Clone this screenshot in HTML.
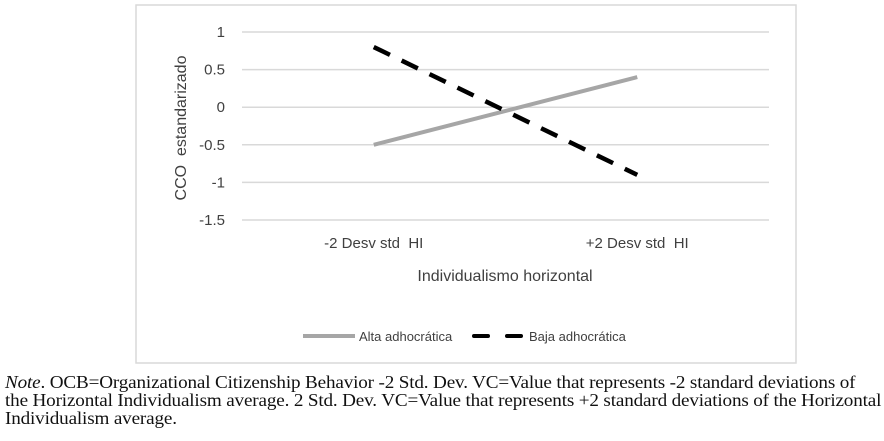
<!DOCTYPE html>
<html><head><meta charset="utf-8"><style>
body{margin:0;width:884px;height:441px;background:#fff;overflow:hidden;position:relative}
#note{position:absolute;left:5px;top:373px;font-family:"Liberation Serif",serif;font-size:18px;line-height:18px;color:#111;white-space:nowrap;letter-spacing:-0.15px;transform:scaleX(1.063);transform-origin:0 0}
</style></head><body>
<svg id="chart" width="884" height="370" style="position:absolute;left:0;top:0" font-family="Liberation Sans, sans-serif">
<rect x="136" y="5" width="660" height="358" fill="#fff" stroke="#d9d9d9" stroke-width="1.5"/>
<g id="grid"></g><g id="series"></g>
<text transform="translate(186,128) rotate(-90)" text-anchor="middle" font-size="16" fill="#404040" style="white-space:pre">CCO  estandarizado</text>
<text x="505" y="281" text-anchor="middle" font-size="16" fill="#404040">Individualismo horizontal</text>
<g>
<line x1="303" y1="336" x2="355" y2="336" stroke="#a6a6a6" stroke-width="4"/>
<text x="359" y="341" font-size="13" fill="#404040">Alta adhocrática</text>
<line x1="474" y1="336" x2="488" y2="336" stroke="#000" stroke-width="4" stroke-linecap="round"/>
<line x1="507" y1="336" x2="521" y2="336" stroke="#000" stroke-width="4" stroke-linecap="round"/>
<text x="529" y="341" font-size="13" fill="#404040">Baja adhocrática</text>
</g>
</svg>
<div id="note"><i>Note</i>. OCB=Organizational Citizenship Behavior -2 Std. Dev. VC=Value that represents -2 standard deviations of<br>the Horizontal Individualism average. 2 Std. Dev. VC=Value that represents +2 standard deviations of the Horizontal<br>Individualism average.</div>
<script>
const categories=["-2 Desv std  HI","+2 Desv std  HI"];
const altaValues=[-0.5,0.4];
const bajaValues=[0.8,-0.9];
const yTicks=[1,0.5,0,-0.5,-1,-1.5];
const NS="http://www.w3.org/2000/svg";
const x0=242,x1=769,yTop=32,yBot=220,yMax=1,yMin=-1.5;
function y(v){return yTop+(yMax-v)/(yMax-yMin)*(yBot-yTop);}
function x(i){return x0+(x1-x0)*(i+0.5)/categories.length;}
function mk(t,a,p){const e=document.createElementNS(NS,t);for(const k in a)e.setAttribute(k,a[k]);p.appendChild(e);return e;}
const g=document.getElementById('grid'),s=document.getElementById('series');
yTicks.forEach(v=>{
 const l=mk('line',{x1:x0,x2:x1,y1:y(v),y2:y(v),stroke:'#d9d9d9','stroke-width':1.5},g);
 
 
 const t=mk('text',{x:225,y:y(v)+5,'text-anchor':'end','font-size':15,fill:'#404040'},g);
 t.textContent=v;
 
 
});
categories.forEach((c,i)=>{
 const t=mk('text',{x:x(i),y:248,'text-anchor':'middle','font-size':15,fill:'#404040',style:'white-space:pre'},g);
 t.textContent=c;
 
 
});
function pts(vals){return vals.map((v,i)=>x(i)+','+y(v)).join(' ');}
const a=mk('polyline',{points:pts(altaValues),fill:'none',stroke:'#a6a6a6','stroke-width':4},s);


const b=mk('polyline',{points:pts(bajaValues),fill:'none',stroke:'#000','stroke-width':4.5,'stroke-dasharray':'18 13'},s);


</script>
</body></html>
